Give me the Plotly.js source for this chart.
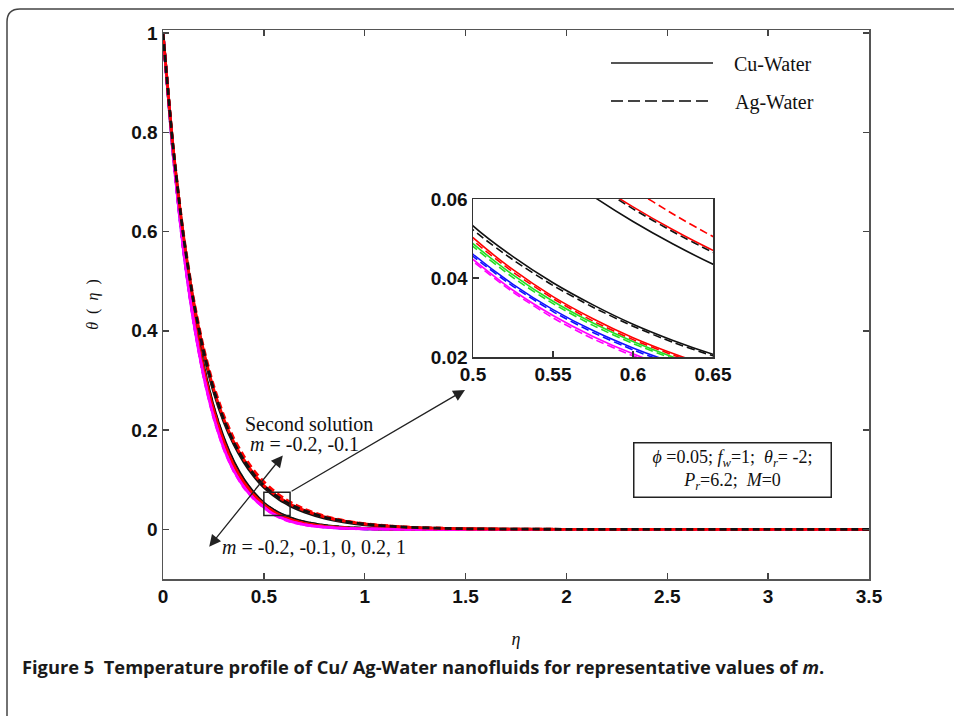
<!DOCTYPE html>
<html>
<head>
<meta charset="utf-8">
<script src="https://cdn.plot.ly/plotly-3.0.1.min.js"></script>
<style>
  html, body { margin: 0; padding: 0; background: #fff; }
  #chart { width: 954px; height: 716px; }
</style>
</head>
<body>
<div id="chart"></div>
<script>
// ---------------- data ----------------
const eta = [0, 0.05, 0.1, 0.15, 0.2, 0.25, 0.3, 0.35, 0.4, 0.45, 0.5, 0.525, 0.55, 0.575, 0.6, 0.625, 0.65, 0.7, 0.8, 0.9, 1.0, 1.2, 1.5, 2, 2.5, 3, 3.5];

// first solution
const cuFirst_mNeg02 = [1, 0.765, 0.582, 0.441, 0.332, 0.248, 0.185, 0.137, 0.101, 0.074, 0.0532, 0.0454, 0.0388, 0.0332, 0.0283, 0.0242, 0.0207, 0.0150, 0.0079, 0.0041, 0.0021, 0.0005, 0.0001, 0, 0, 0, 0];
const agFirst_mNeg02 = [1, 0.764, 0.580, 0.439, 0.330, 0.246, 0.183, 0.135, 0.0995, 0.0728, 0.0522, 0.0446, 0.0381, 0.0326, 0.0278, 0.0237, 0.0203, 0.0147, 0.0077, 0.0040, 0.0020, 0.0005, 0.0001, 0, 0, 0, 0];
const cuFirst_mNeg01 = [1, 0.762, 0.577, 0.435, 0.325, 0.241, 0.178, 0.130, 0.0953, 0.0695, 0.0502, 0.0421, 0.0353, 0.0297, 0.0249, 0.0209, 0.0175, 0.0123, 0.0062, 0.0031, 0.0015, 0.0004, 0.0001, 0, 0, 0, 0];
const agFirst_mNeg01 = [1, 0.761, 0.576, 0.434, 0.324, 0.240, 0.177, 0.129, 0.0942, 0.0686, 0.0495, 0.0415, 0.0348, 0.0291, 0.0244, 0.0205, 0.0172, 0.0120, 0.0060, 0.0030, 0.0015, 0.0004, 0.0001, 0, 0, 0, 0];
const cuFirst_m0 = [1, 0.760, 0.574, 0.431, 0.321, 0.237, 0.174, 0.127, 0.0925, 0.0673, 0.0487, 0.0408, 0.0341, 0.0286, 0.0239, 0.0200, 0.0168, 0.0117, 0.0058, 0.0029, 0.0014, 0.0003, 0.0001, 0, 0, 0, 0];
const agFirst_m0 = [1, 0.759, 0.573, 0.430, 0.320, 0.236, 0.173, 0.126, 0.0915, 0.0665, 0.0480, 0.0401, 0.0335, 0.0280, 0.0234, 0.0196, 0.0164, 0.0114, 0.0056, 0.0028, 0.0014, 0.0003, 0.0001, 0, 0, 0, 0];
const cuFirst_m02 = [1, 0.758, 0.570, 0.427, 0.316, 0.232, 0.169, 0.122, 0.0885, 0.0638, 0.0460, 0.0384, 0.0320, 0.0267, 0.0223, 0.0186, 0.0155, 0.0107, 0.0052, 0.0025, 0.0012, 0.0003, 0.0001, 0, 0, 0, 0];
const agFirst_m02 = [1, 0.757, 0.569, 0.426, 0.315, 0.231, 0.168, 0.121, 0.0876, 0.0631, 0.0455, 0.0379, 0.0315, 0.0262, 0.0218, 0.0181, 0.0151, 0.0104, 0.0050, 0.0024, 0.0012, 0.0003, 0.0001, 0, 0, 0, 0];
const cuFirst_m1 = [1, 0.756, 0.567, 0.423, 0.312, 0.228, 0.165, 0.119, 0.0861, 0.0621, 0.0447, 0.0369, 0.0305, 0.0252, 0.0208, 0.0172, 0.0142, 0.0097, 0.0045, 0.0021, 0.0010, 0.0002, 0, 0, 0, 0, 0];
const agFirst_m1 = [1, 0.755, 0.566, 0.422, 0.311, 0.227, 0.164, 0.118, 0.0852, 0.0614, 0.0442, 0.0364, 0.0299, 0.0246, 0.0203, 0.0167, 0.0137, 0.0093, 0.0043, 0.0020, 0.0009, 0.0002, 0, 0, 0, 0, 0];

// second solution
const cuSecond_mNeg02 = [1, 0.769, 0.593, 0.460, 0.358, 0.279, 0.219, 0.1726, 0.1364, 0.1075, 0.0847, 0.0758, 0.0678, 0.0607, 0.0543, 0.0486, 0.0435, 0.0349, 0.0224, 0.0144, 0.0093, 0.0039, 0.0010, 0.0001, 0, 0, 0];
const agSecond_mNeg02 = [1, 0.770, 0.595, 0.462, 0.361, 0.283, 0.223, 0.176, 0.140, 0.111, 0.0881, 0.0792, 0.0712, 0.0640, 0.0575, 0.0517, 0.0465, 0.0378, 0.0247, 0.0162, 0.0106, 0.0045, 0.0012, 0.0001, 0, 0, 0];
const cuSecond_mNeg01 = [1, 0.770, 0.596, 0.463, 0.362, 0.284, 0.224, 0.177, 0.141, 0.112, 0.0884, 0.0795, 0.0716, 0.0644, 0.0580, 0.0522, 0.0470, 0.0382, 0.0251, 0.0165, 0.0108, 0.0046, 0.0012, 0.0001, 0, 0, 0];
const agSecond_mNeg01 = [1, 0.772, 0.600, 0.468, 0.368, 0.291, 0.231, 0.184, 0.148, 0.119, 0.0958, 0.0861, 0.0774, 0.0696, 0.0625, 0.0562, 0.0505, 0.0410, 0.0268, 0.0175, 0.0114, 0.0049, 0.0013, 0.0001, 0, 0, 0];

const mainXTicks = [0, 0.5, 1, 1.5, 2, 2.5, 3, 3.5];
const mainYTicks = [0, 0.2, 0.4, 0.6, 0.8, 1];
const insetXTicks = [0.5, 0.55, 0.6, 0.65];
const insetYTicks = [0.02, 0.04, 0.06];
const legendNames = ['Cu-Water', 'Ag-Water'];

// ---------------- styles ----------------
const colors = { black: '#111111', red: '#ff0000', green: '#22dd22', blue: '#1010ff', magenta: '#ff00ff' };
// drawing order
const curves = [
  { y: cuSecond_mNeg02, c: colors.black, dash: false },
  { y: cuFirst_mNeg02, c: colors.black, dash: false },
  { y: agFirst_mNeg02, c: colors.black, dash: true },
  { y: cuFirst_m0, c: colors.green, dash: false },
  { y: agFirst_m0, c: colors.green, dash: true },
  { y: cuFirst_m02, c: colors.blue, dash: false },
  { y: agFirst_m02, c: colors.blue, dash: true },
  { y: cuFirst_mNeg01, c: colors.red, dash: false },
  { y: agFirst_mNeg01, c: colors.red, dash: true },
  { y: cuFirst_m1, c: colors.magenta, dash: false },
  { y: agFirst_m1, c: colors.magenta, dash: true },
  { y: cuSecond_mNeg01, c: colors.red, dash: false },
  { y: agSecond_mNeg01, c: colors.red, dash: true },
  { y: agSecond_mNeg02, c: colors.black, dash: true }
];

const traces = [];
curves.forEach(cv => {
  traces.push({
    x: eta, y: cv.y, type: 'scatter', mode: 'lines', xaxis: 'x', yaxis: 'y',
    line: { color: cv.c, width: 2.8, shape: 'spline', smoothing: 0.6, dash: cv.dash ? '7px,4px' : 'solid' },
    showlegend: false, hoverinfo: 'skip'
  });
});
curves.forEach(cv => {
  traces.push({
    x: eta, y: cv.y, type: 'scatter', mode: 'lines', xaxis: 'x2', yaxis: 'y2',
    line: { color: cv.c, width: 1.6, shape: 'spline', smoothing: 0.6, dash: cv.dash ? '8px,4px' : 'solid' },
    showlegend: false, hoverinfo: 'skip'
  });
});

// ---------------- layout helpers (pixel -> paper) ----------------
const L = 163, T = 30, W = 706, H = 549;
const px = v => (v - L) / W;
const py = v => (T + H - v) / H;

const tickFont = { family: 'Liberation Sans, Arial, sans-serif', size: 19, color: '#111', weight: 'bold' };
const serif = 'Liberation Serif, Times New Roman, serif';

const layout = {
  width: 954, height: 716,
  margin: { l: L, r: 954 - L - W, t: T, b: 716 - T - H },
  paper_bgcolor: '#fff', plot_bgcolor: '#fff',
  showlegend: false,
  xaxis: {
    range: [0, 3.5], tickvals: mainXTicks, ticktext: mainXTicks.map(String),
    ticks: 'inside', ticklen: 6, tickwidth: 1.5, tickcolor: '#444',
    showline: true, linecolor: '#555', linewidth: 1.5, mirror: 'ticks',
    showgrid: false, zeroline: false, tickfont: tickFont,
    title: { text: '<i>η</i>', font: { family: serif, size: 18, color: '#111' }, standoff: 26 }
  },
  yaxis: {
    range: [-0.1, 1.006], tickvals: mainYTicks, ticktext: mainYTicks.map(String),
    ticks: 'inside', ticklen: 6, tickwidth: 1.5, tickcolor: '#444',
    showline: true, linecolor: '#555', linewidth: 1.5, mirror: 'ticks',
    showgrid: false, zeroline: false, tickfont: tickFont,
    title: { text: '<i>θ</i>  (  <i>η</i>  )', font: { family: serif, size: 16, color: '#111' }, standoff: 28 }
  },
  xaxis2: {
    domain: [px(473), px(713)], anchor: 'y2', range: [0.5, 0.65],
    tickvals: insetXTicks, ticktext: insetXTicks.map(String),
    ticks: 'inside', ticklen: 6, tickwidth: 1.5, tickcolor: '#333',
    showline: true, linecolor: '#333', linewidth: 1.5, mirror: true,
    showgrid: false, zeroline: false, tickfont: tickFont
  },
  yaxis2: {
    domain: [py(357), py(199)], anchor: 'x2', range: [0.02, 0.06],
    tickvals: insetYTicks, ticktext: insetYTicks.map(String),
    ticks: 'inside', ticklen: 6, tickwidth: 1.5, tickcolor: '#333',
    showline: true, linecolor: '#333', linewidth: 1.5, mirror: true,
    showgrid: false, zeroline: false, tickfont: tickFont
  },
  shapes: [
    // outer rounded frame
    { type: 'path', xref: 'paper', yref: 'paper',
      path: `M ${px(7)} ${py(716)} L ${px(7)} ${py(22)} Q ${px(7)} ${py(9)} ${px(20)} ${py(9)} L ${px(954)} ${py(9)}`,
      line: { color: '#444', width: 1.5 } },
    // zoom box
    { type: 'rect', xref: 'x', yref: 'y', x0: 0.5, x1: 0.63, y0: 0.028, y1: 0.075,
      line: { color: '#222', width: 1.5 } },
    // legend samples
    { type: 'line', xref: 'paper', yref: 'paper', x0: px(611), x1: px(713), y0: py(63), y1: py(63),
      line: { color: '#555', width: 2.2 } },
    { type: 'line', xref: 'paper', yref: 'paper', x0: px(611), x1: px(713), y0: py(101), y1: py(101),
      line: { color: '#444', width: 1.8, dash: '12px,5px' } }
  ],
  annotations: [
    { xref: 'paper', yref: 'paper', x: px(732), y: py(64), xanchor: 'left', yanchor: 'middle', showarrow: false,
      text: legendNames[0], font: { family: serif, size: 20, color: '#111' } },
    { xref: 'paper', yref: 'paper', x: px(733), y: py(102), xanchor: 'left', yanchor: 'middle', showarrow: false,
      text: legendNames[1], font: { family: serif, size: 20, color: '#111' } },
    { xref: 'paper', yref: 'paper', x: px(309), y: py(424), xanchor: 'center', yanchor: 'middle', showarrow: false,
      text: 'Second solution', font: { family: serif, size: 20, color: '#111' } },
    { xref: 'paper', yref: 'paper', x: px(304), y: py(444), xanchor: 'center', yanchor: 'middle', showarrow: false,
      text: '<i>m</i> = -0.2, -0.1', font: { family: serif, size: 20, color: '#111' } },
    { xref: 'paper', yref: 'paper', x: px(220), y: py(547), xanchor: 'left', yanchor: 'middle', showarrow: false,
      text: '<i>m</i> = -0.2, -0.1, 0, 0.2, 1', font: { family: serif, size: 20, color: '#111' } },
    // double-headed arrow
    { xref: 'x', yref: 'y', axref: 'x', ayref: 'y', x: 0.594, y: 0.149, ax: 0.223, ay: -0.038,
      text: '', showarrow: true, arrowhead: 2, startarrowhead: 2, arrowside: 'end+start',
      arrowsize: 1.8, startarrowsize: 1.8, arrowwidth: 1.3, arrowcolor: '#222', standoff: 0, startstandoff: 0 },
    // arrow from zoom box to inset
    { xref: 'x', yref: 'y', axref: 'x', ayref: 'y', x: 1.497, y: 0.281, ax: 0.63, ay: 0.075,
      text: '', showarrow: true, arrowhead: 2, arrowsize: 1.8, arrowwidth: 1.3, arrowcolor: '#222', standoff: 0 },
    // parameter box
    { xref: 'paper', yref: 'paper', x: px(732.5), y: py(469.5), xanchor: 'center', yanchor: 'middle', showarrow: false,
      text: '<i>ϕ</i> =0.05; <i>f<sub>w</sub></i>=1;  <i>θ<sub>r</sub></i>= -2;<br><i>P<sub>r</sub></i>=6.2;  <i>M</i>=0',
      font: { family: serif, size: 18, color: '#111' }, align: 'center',
      width: 193, height: 50, borderpad: 1.5, bordercolor: '#222', borderwidth: 1.5, bgcolor: '#fff' },
    // caption
    { xref: 'paper', yref: 'paper', x: px(20), y: py(667), xanchor: 'left', yanchor: 'middle', showarrow: false,
      text: '<b>Figure 5  Temperature profile of Cu/ Ag-Water nanofluids for representative values of <i>m</i>.</b>',
      font: { family: 'Open Sans, sans-serif', size: 18.3, color: '#1a1a1a' } }
  ]
};

Plotly.newPlot('chart', traces, layout, { staticPlot: true, displayModeBar: false });
</script>
</body>
</html>
